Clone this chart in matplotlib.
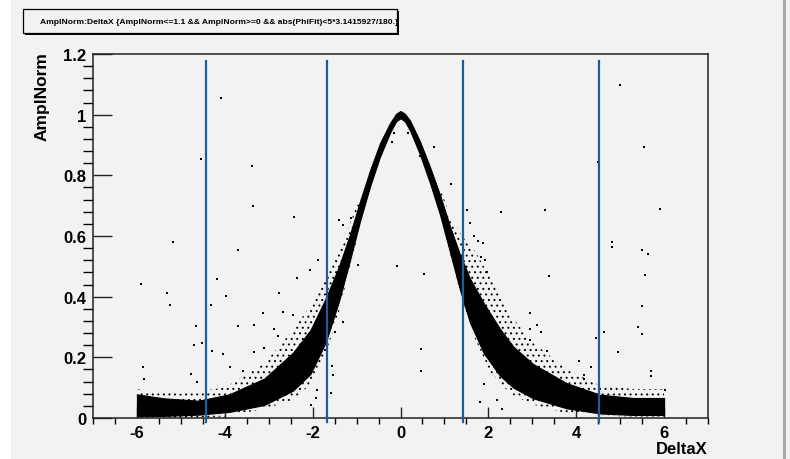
import matplotlib
matplotlib.use("Agg")
import matplotlib.pyplot as plt
from matplotlib.patches import Rectangle
from matplotlib.ticker import MultipleLocator

plt.rcParams["font.family"] = ["Liberation Sans", "DejaVu Sans"]
plt.rcParams["font.weight"] = "bold"
plt.rcParams["axes.unicode_minus"] = False
plt.rcParams["hatch.linewidth"] = 0.7

# dense core of the scatter, lower / upper envelope per DeltaX
band_x = [-6.0, -5.4, -4.6, -3.9, -3.1, -2.45, -2.05, -1.7, -1.4, -1.15, -0.92,
          -0.69, -0.47, -0.24, -0.1, 0.0, 0.1, 0.22, 0.44, 0.67, 0.9, 1.13, 1.35,
          1.58, 1.89, 2.26, 2.57, 3.02, 3.78, 4.54, 5.3, 6.0]
band_lo = [0.005, 0.007, 0.011, 0.02, 0.043, 0.09, 0.145, 0.25, 0.385, 0.52, 0.65,
           0.765, 0.86, 0.94, 0.978, 0.988, 0.978, 0.947, 0.87, 0.775, 0.67, 0.545,
           0.425, 0.315, 0.215, 0.14, 0.10, 0.065, 0.032, 0.015, 0.01, 0.01]
band_hi = [0.078, 0.065, 0.057, 0.078, 0.13, 0.215, 0.29, 0.395, 0.50, 0.605, 0.715,
           0.818, 0.905, 0.972, 1.003, 1.012, 1.003, 0.98, 0.913, 0.828, 0.735, 0.63,
           0.54, 0.46, 0.38, 0.295, 0.235, 0.178, 0.115, 0.077, 0.066, 0.066]

# sparser fuzz around the core, left and right flanks
halo_lx = [-6.0, -5.0, -4.0, -3.1, -2.45, -2.05, -1.7, -1.4, -1.15, -0.92]
halo_llo = [0.0, 0.0, 0.005, 0.03, 0.06, 0.11, 0.21, 0.35, 0.50, 0.63]
halo_lhi = [0.095, 0.08, 0.10, 0.18, 0.29, 0.37, 0.47, 0.56, 0.64, 0.73]
halo_rx = [0.92, 1.15, 1.4, 1.7, 2.05, 2.5, 3.0, 3.8, 4.5, 5.3, 6.0]
halo_rlo = [0.66, 0.53, 0.39, 0.26, 0.15, 0.08, 0.045, 0.015, 0.008, 0.005, 0.005]
halo_rhi = [0.75, 0.66, 0.60, 0.55, 0.46, 0.34, 0.25, 0.16, 0.11, 0.095, 0.095]

# isolated entries away from the band
out_x = [-4.09, -4.55, -3.38, -3.35, -2.42, -5.19, -3.71, -5.9, -4.18, -2.36,
         -5.32, -3.98, -2.77, -1.88, -2.06, -0.08, 0.53, 0.76, -0.19, -0.97, -1.4,
         5.0, 5.54, 4.5, 1.16, 2.29, 3.29, 5.9, 1.51, 1.58, 4.81, 4.81, 5.5, 5.63,
         3.37, 5.57, 1.67, 1.76, 1.88, 1.83, 1.92, 1.96,
         2.95, 3.1, 2.95, 3.19, 2.95, 4.45, 4.63, 4.94, 5.41, 5.5, 5.5, 5.7, 5.7,
         6.02, 4.07, 4.34, 4.18, 4.18, 3.33, 1.81, 2.3, 1.89, 2.19,
         -5.25, -4.31, -4.66, -4.7, -4.53, -5.87, -5.84, -3.71, -3.33, -3.14, -2.67,
         -2.44, -2.89, -2.78, -4.28, -4.03, -3.33, -3.1, 0.46, 0.46, -4.78, -4.64,
         -3.87, -3.59, -1.91, -1.92, -2.04, -1.57, -1.53, -1.58, -1.3, -1.49,
         -1.39, -1.32, -1.13, 0.44, 0.18, -0.14]
out_y = [1.054, 0.854, 0.832, 0.698, 0.663, 0.581, 0.555, 0.441, 0.459, 0.463,
         0.411, 0.402, 0.411, 0.521, 0.489, 0.502, 0.476, 0.893, 0.911, 0.505, 0.653,
         1.098, 0.893, 0.845, 0.771, 0.680, 0.685, 0.689, 0.685, 0.642, 0.580, 0.563,
         0.554, 0.541, 0.467, 0.471, 0.601, 0.585, 0.576, 0.53, 0.52, 0.48,
         0.345, 0.308, 0.293, 0.284, 0.258, 0.263, 0.285, 0.217, 0.299, 0.277, 0.368,
         0.155, 0.138, 0.093, 0.189, 0.167, 0.142, 0.129, 0.222, 0.052, 0.03, 0.112,
         0.059,
         0.373, 0.373, 0.302, 0.242, 0.246, 0.167, 0.129, 0.302, 0.308, 0.345, 0.348,
         0.34, 0.293, 0.271, 0.22, 0.211, 0.219, 0.232, 0.227, 0.156, 0.145, 0.118,
         0.167, 0.156, 0.093, 0.065, 0.043, 0.172, 0.142, 0.081, 0.318, 0.283,
         0.654, 0.636, 0.659, 0.863, 0.94, 0.94]

# vertical cut lines
cut_x = [-4.43, -1.68, 1.43, 4.52]
cut_ylo, cut_yhi = -0.014, 1.177

title = "AmplNorm:DeltaX {AmplNorm<=1.1 && AmplNorm>=0 && abs(PhiFit)<5*3.1415927/180.}"

W, H = 790, 460
fig = plt.figure(figsize=(W / 100, H / 100), dpi=100, facecolor="#f2f2f2")

# left white strip and right gray border of the canvas window
fig.patches.append(Rectangle((0, 0), 11 / W, 1, transform=fig.transFigure,
                             facecolor="white", edgecolor="none", zorder=0))
fig.patches.append(Rectangle((783 / W, 0), 3 / W, 1, transform=fig.transFigure,
                             facecolor="#a8a8a8", edgecolor="none", zorder=0))

ax = fig.add_axes([93 / W, 1 - 419 / H, 615 / W, 364 / H])
ax.set_facecolor("#f2f2f2")
ax.set_xlim(-7, 7)
ax.set_ylim(0, 1.2)

ax.fill_between(halo_lx, halo_llo, halo_lhi, facecolor="none", edgecolor="black",
                hatch="...", lw=0, zorder=1)
ax.fill_between(halo_rx, halo_rlo, halo_rhi, facecolor="none", edgecolor="black",
                hatch="...", lw=0, zorder=1)
ax.fill_between(band_x, band_lo, band_hi, color="black", lw=0.8, zorder=2)
ax.scatter(out_x, out_y, s=1.6, marker="s", color="black", lw=0, zorder=2)

for cx in cut_x:
    ax.plot([cx, cx], [cut_ylo, cut_yhi], color="#1f5c99", lw=1.6,
            clip_on=False, zorder=3)

for sp in ax.spines.values():
    sp.set_linewidth(1.1)
    sp.set_color("#222222")

ax.xaxis.set_major_locator(MultipleLocator(2))
ax.xaxis.set_minor_locator(MultipleLocator(0.5))
ax.yaxis.set_minor_locator(MultipleLocator(0.04))
ax.tick_params(direction="in", top=False, right=False, labelsize=12,
               colors="#222222", labelcolor="black")
ax.tick_params(axis="x", which="major", length=8, width=1, pad=5)
ax.tick_params(axis="x", which="minor", length=4.3, width=1)
ax.tick_params(axis="y", which="major", length=13.5, width=1, pad=5)
ax.tick_params(axis="y", which="minor", length=7, width=1)
ax.set_yticks([0, 0.2, 0.4, 0.6, 0.8, 1.0, 1.2], ["0", "0.2", "0.4", "0.6", "0.8", "1", "1.2"])

fig.text(708 / W, 1 - 454 / H, "DeltaX", ha="right", va="baseline",
         fontsize=12, fontweight="bold")
fig.text(42 / W, 1 - 52 / H, "AmplNorm", ha="center", va="top", rotation=90,
         fontsize=12.5, fontweight="bold")

# title pave with shadow
x0, y0, x1, y1 = 23, 10, 397, 34
fig.patches.append(Rectangle((x0 / W + 2 / W, 1 - (y1 + 2) / H), (x1 - x0) / W, (y1 - y0) / H,
                             transform=fig.transFigure, facecolor="black",
                             edgecolor="none", zorder=1))
fig.patches.append(Rectangle((x0 / W, 1 - y1 / H), (x1 - x0) / W, (y1 - y0) / H,
                             transform=fig.transFigure, facecolor="#f2f2f2",
                             edgecolor="black", lw=0.9, zorder=2))
fig.text(219 / W, 1 - (y0 + y1) / 2 / H, title, ha="center", va="center",
         fontsize=6.1, fontweight="bold", zorder=3)

fig.savefig("out.png", dpi=100, facecolor=fig.get_facecolor())
